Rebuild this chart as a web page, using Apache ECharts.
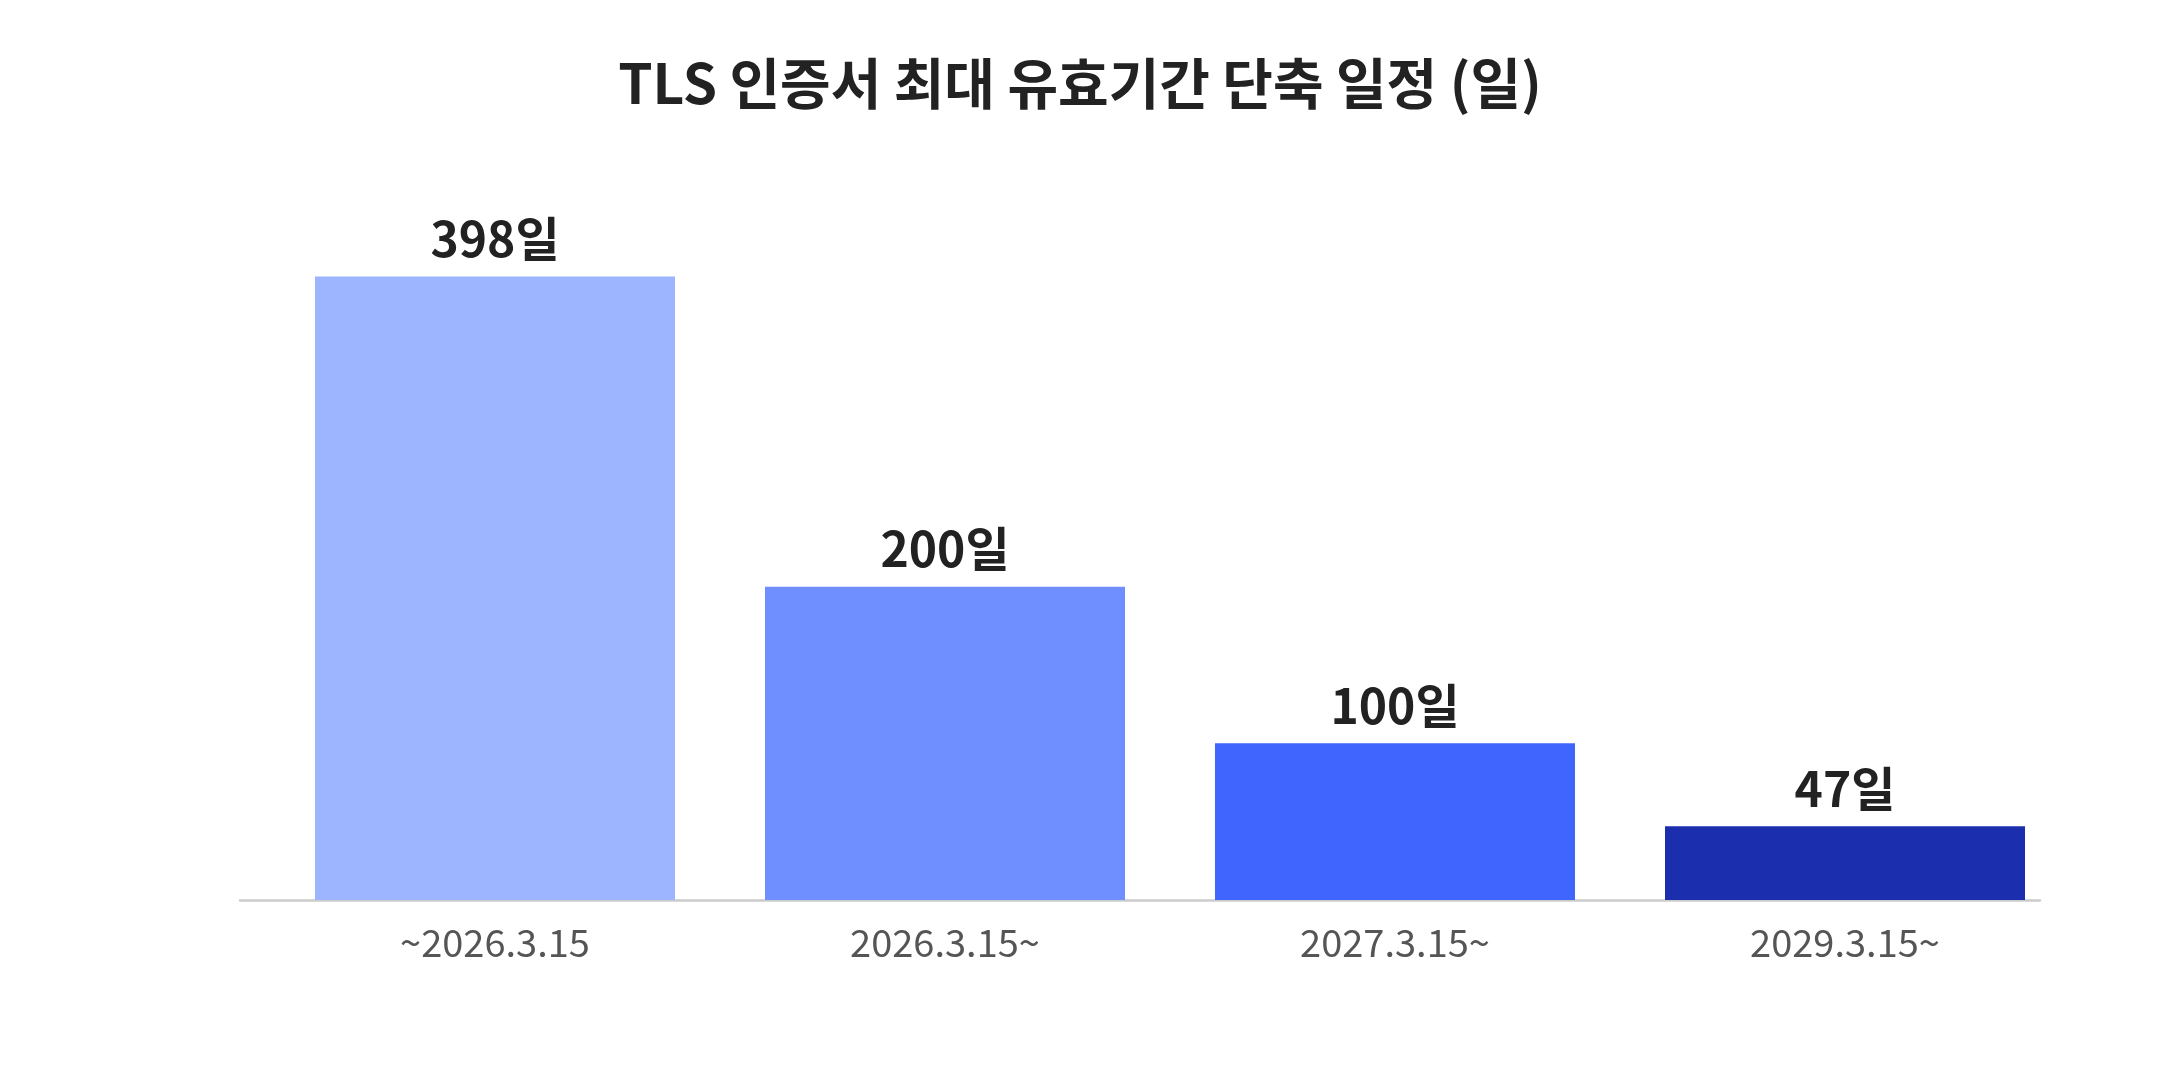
<!DOCTYPE html>
<html>
<head>
<meta charset="utf-8">
<script src="https://cdn.jsdelivr.net/npm/echarts@6/dist/echarts.min.js"></script>
<style>
html, body { margin: 0; padding: 0; background: #fff; }
#chart { width: 2160px; height: 1080px; }
</style>
</head>
<body>
<div id="chart"></div>
<script>
var categories = ['~2026.3.15', '2026.3.15~', '2027.3.15~', '2029.3.15~'];
var days = [398, 200, 100, 47];
var barColors = ['#9db4ff', '#6f8eff', '#4065ff', '#1b2fae'];

var font = '"Noto Sans CJK KR", "Noto Sans", sans-serif';
var myChart = echarts.init(document.getElementById('chart'));

var option = {
    backgroundColor: '#fff',
    animation: false,
    title: {
        text: 'TLS 인증서 최대 유효기간 단축 일정 (일)',
        left: 'center',
        top: 51,
        textStyle: {
            fontFamily: font,
            fontSize: 55,
            fontWeight: 'bold',
            color: '#222'
        }
    },
    // grid 0 only carries the baseline, grid 1 the bars
    grid: [
        { left: 240, right: 120, top: 195, bottom: 180 },
        { left: 270, right: 90, top: 195, bottom: 180 }
    ],
    xAxis: [
        {
            gridIndex: 0,
            type: 'category',
            data: categories,
            axisLine: { show: true, lineStyle: { color: '#cccccc', width: 2.5 } },
            axisTick: { show: false },
            axisLabel: { show: false }
        },
        {
            gridIndex: 1,
            type: 'category',
            data: categories,
            axisLine: { show: false },
            axisTick: { show: false },
            axisLabel: {
                margin: 24,
                fontFamily: font,
                fontSize: 38,
                color: '#555'
            }
        }
    ],
    yAxis: [
        { gridIndex: 0, type: 'value', min: 0, max: 450, show: false },
        { gridIndex: 1, type: 'value', min: 0, max: 450, show: false }
    ],
    series: [
        {
            type: 'bar',
            xAxisIndex: 1,
            yAxisIndex: 1,
            barWidth: 360,
            data: days.map(function (v, i) {
                return { value: v, itemStyle: { color: barColors[i] } };
            }),
            label: {
                show: true,
                position: 'top',
                distance: 14,
                formatter: '{c}일',
                fontFamily: font,
                fontSize: 48,
                fontWeight: 'bold',
                color: '#222'
            }
        }
    ]
};
myChart.setOption(option);
</script>
</body>
</html>
